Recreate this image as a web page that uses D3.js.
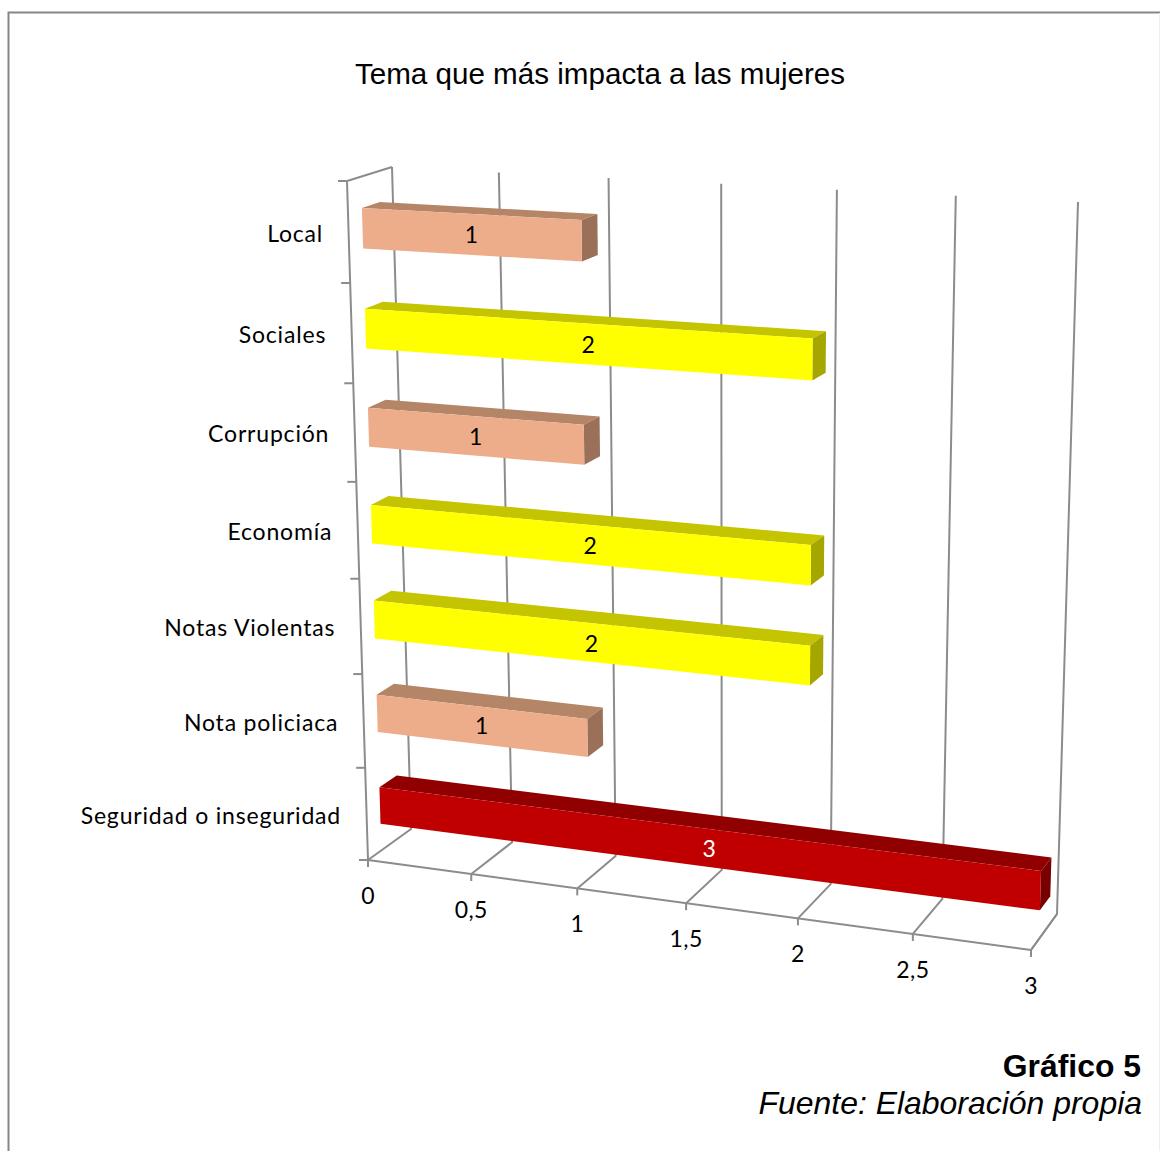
<!DOCTYPE html>
<html><head><meta charset="utf-8">
<style>html,body{margin:0;padding:0;background:#fff}svg{display:block}</style>
<script src="https://cdnjs.cloudflare.com/ajax/libs/d3/7.8.5/d3.min.js"></script>
</head><body><div id="c"></div>
<script>
const categories = ["Local","Sociales","Corrupción","Economía","Notas Violentas","Nota policiaca","Seguridad o inseguridad"];
const values = [1,2,1,2,2,1,3];
const valueTicks = [0,0.5,1,1.5,2,2.5,3];
const tickLabels = ["0","0,5","1","1,5","2","2,5","3"];
const title = "Tema que más impacta a las mujeres";
const captionBold = "Gráfico 5";
const captionItalic = "Fuente: Elaboración propia";

const W=1160,H=1151;
const svg=d3.select("#c").append("svg").attr("width",W).attr("height",H);

// quad -> perspective map from the unit square
function homography(q){ // q: [p00 (u0,w0), p10 (u1,w0), p11 (u1,w1), p01 (u0,w1)]
  const [a,b,c,d]=q;
  const dx1=b[0]-c[0],dx2=d[0]-c[0],sx=a[0]-b[0]+c[0]-d[0];
  const dy1=b[1]-c[1],dy2=d[1]-c[1],sy=a[1]-b[1]+c[1]-d[1];
  const den=dx1*dy2-dx2*dy1;
  const g=(sx*dy2-dx2*sy)/den,h=(dx1*sy-sx*dy1)/den;
  const A=b[0]-a[0]+g*b[0],B=d[0]-a[0]+h*d[0],C=a[0];
  const D=b[1]-a[1]+g*b[1],E=d[1]-a[1]+h*d[1],F=a[1];
  return (u,w)=>{const t=g*u+h*w+1;return [(A*u+B*w+C)/t,(D*u+E*w+F)/t];};
}
const frontPlane=homography([[347,181],[1052,216],[1031,950],[368,860]]);
const backPlane =homography([[392,167],[1078,202],[1057,914],[411,829]]);
const xS=d3.scaleLinear().domain([0,3]).range([0,1]);
const yS=d3.scaleBand().domain(categories).range([0.0012,1.0012]).paddingInner(0.6).paddingOuter(0.3);
const zS=d3.scaleLinear().domain([0,1]).range([0,1]);
const P=(v,c,z)=>{const f=frontPlane(xS(v),c),b=backPlane(xS(v),c),t=zS(z);return [f[0]+(b[0]-f[0])*t,f[1]+(b[1]-f[1])*t];};
const line=d3.line();
const barZ=[0.31,0.71];

const gridColor="#8c8c8c";
const g=svg.append("g").attr("fill","none").attr("stroke",gridColor).attr("stroke-width",2);
// chart border
svg.append("path").attr("d",line([[8.5,1151],[8.5,12.5],[1160,12.5]])).attr("fill","none").attr("stroke","#868686").attr("stroke-width",2);
svg.append("path").attr("d",line([[1159.5,13],[1159.5,1151]])).attr("fill","none").attr("stroke","#eeeeee").attr("stroke-width",1);
// gridlines on back wall and floor
valueTicks.forEach(t=>{
  g.append("path").attr("d",line([P(t,0,1),P(t,1,1),P(t,1,0)]));
  const f=P(t,1,0);
  g.append("path").attr("d",line([f,[f[0],f[1]+7]]));
});
// frame
g.append("path").attr("d",line([P(3,1,0),P(3,1,1)]));
g.append("path").attr("d",line([P(0,1,0),P(3,1,0)]));
g.append("path").attr("d",line([P(0,0,1),P(0,0,0),P(0,1,0)]));
// category ticks
d3.range(categories.length+1).forEach(i=>{
  const p=P(0,i/categories.length,0);
  g.append("path").attr("d",line([p,[p[0]-9,p[1]]]));
});

// bars
const faceCol=d3.scaleOrdinal().domain([1,2,3]).range(["#edad8a","#ffff00","#c00000"]);
const topCol=d3.scaleOrdinal().domain([1,2,3]).range(["#b58568","#c4c400","#900000"]);
const sideCol=d3.scaleOrdinal().domain([1,2,3]).range(["#9a7059","#a6a600","#780000"]);
const labelCol=d3.scaleOrdinal().domain([1,2,3]).range(["#000","#000","#fff"]);
const bars=svg.append("g").selectAll("g").data(categories.map((c,i)=>({c,v:values[i]}))).join("g");
const y0=d=>yS(d.c),y1=d=>yS(d.c)+yS.bandwidth();
bars.append("path").attr("fill",d=>topCol(d.v)).attr("d",d=>line([P(0,y0(d),barZ[0]),P(0,y0(d),barZ[1]),P(d.v,y0(d),barZ[1]),P(d.v,y0(d),barZ[0])])+"Z");
bars.append("path").attr("fill",d=>sideCol(d.v)).attr("d",d=>line([P(d.v,y0(d),barZ[0]),P(d.v,y0(d),barZ[1]),P(d.v,y1(d),barZ[1]),P(d.v,y1(d),barZ[0])])+"Z");
bars.append("path").attr("fill",d=>faceCol(d.v)).attr("d",d=>line([P(0,y0(d),barZ[0]),P(d.v,y0(d),barZ[0]),P(d.v,y1(d),barZ[0]),P(0,y1(d),barZ[0])])+"Z");
const faceMid=d=>{const a=P(0,y0(d),barZ[0]),b=P(d.v,y1(d),barZ[0]);return [(a[0]+b[0])/2,(a[1]+b[1])/2];};
const lab="Lato, 'Open Sans', sans-serif";
bars.append("text").text(d=>d.v).attr("x",d=>faceMid(d)[0]-0.5).attr("y",d=>faceMid(d)[1]+0.5).attr("dy","0.35em")
  .attr("text-anchor","middle").attr("font-family",lab).attr("font-size",23).attr("fill",d=>labelCol(d.v));

// category labels
const catMid=d=>{const step=1/categories.length;return (categories.indexOf(d)+0.5)*step;};
svg.append("g").selectAll("text").data(categories).join("text").text(d=>d)
  .attr("x",d=>P(0,catMid(d),0)[0]-25.5)
  .attr("y",d=>P(0,catMid(d),0)[1]+1.4).attr("dy","0.35em")
  .attr("text-anchor","end").attr("font-family",lab).attr("font-size",23).attr("letter-spacing",0.82).attr("fill","#000");
// value labels
svg.append("g").selectAll("text").data(valueTicks).join("text").text((d,i)=>tickLabels[i])
  .attr("x",d=>P(d,1,0)[0]).attr("y",d=>P(d,1,0)[1]+35.5).attr("dy","0.35em")
  .attr("text-anchor","middle").attr("font-family",lab).attr("font-size",23).attr("letter-spacing",0.4).attr("fill","#000");

svg.append("text").text(title).attr("x",600).attr("y",84).attr("text-anchor","middle")
  .attr("font-family","'Liberation Sans',Arial,sans-serif").attr("font-size",29.6).attr("fill","#000");
svg.append("text").text(captionBold).attr("x",1141).attr("y",1077).attr("text-anchor","end")
  .attr("font-family","'Liberation Sans',Arial,sans-serif").attr("font-weight","bold").attr("font-size",31.9).attr("fill","#000");
svg.append("text").text(captionItalic).attr("x",1142).attr("y",1114).attr("text-anchor","end")
  .attr("font-family","'Liberation Sans',Arial,sans-serif").attr("font-style","italic").attr("font-size",31.95).attr("fill","#000");
</script></body></html>
